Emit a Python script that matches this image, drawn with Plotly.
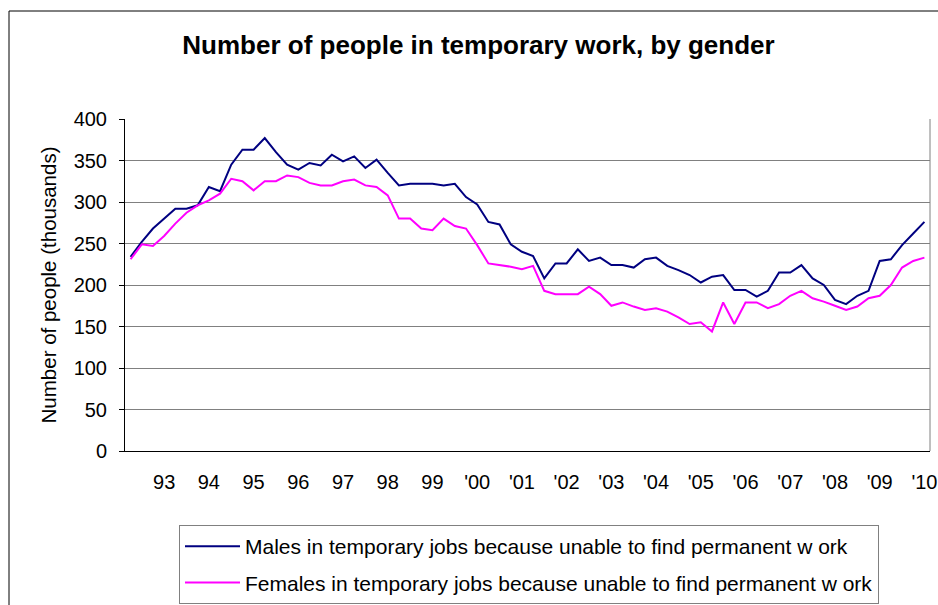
import plotly.graph_objects as go

males = [234, 252, 268, 280, 292, 292, 296, 318, 313, 345, 363, 363, 377, 360, 345, 339,
         347, 344, 357, 349, 355, 341, 351, 335, 320, 322, 322, 322, 320, 322, 306, 297,
         276, 273, 249, 240, 235, 208, 226, 226, 243, 229, 233, 224, 224, 221, 231, 233,
         223, 218, 212, 203, 210, 212, 194, 194, 186, 193, 215, 215, 224, 208, 200, 182,
         177, 187, 193, 229, 231, 248, 262, 276]
females = [231, 249, 247, 259, 274, 287, 296, 302, 310, 328, 325, 314, 325, 325, 332, 330,
           323, 320, 320, 325, 327, 320, 318, 308, 280, 280, 268, 266, 280, 271, 268, 248,
           226, 224, 222, 219, 223, 193, 189, 189, 189, 198, 189, 175, 179, 174, 170, 172,
           168, 161, 153, 155, 144, 179, 153, 179, 179, 172, 177, 187, 193, 184, 180, 175,
           170, 174, 184, 187, 200, 221, 229, 233]
year_labels = ["93", "94", "95", "96", "97", "98", "99", "'00", "'01", "'02", "'03",
               "'04", "'05", "'06", "'07", "'08", "'09", "'10"]

n = len(males)
xs = list(range(n))
label_pos = [3 + 4 * k for k in range(len(year_labels))]

FONT = "Liberation Sans, Arial, sans-serif"

fig = go.Figure()
fig.add_trace(go.Scatter(
    x=xs, y=males, mode="lines",
    name="Males in temporary jobs because unable to find permanent w ork",
    line=dict(color="#000080", width=2), legendgroup="m"))
fig.add_trace(go.Scatter(
    x=xs, y=females, mode="lines",
    name="Females in temporary jobs because unable to find permanent w ork",
    line=dict(color="#FF00FF", width=2), legendgroup="f"))

W, H = 938, 605
L, R, T, B = 125, 8, 119, 154
pw, ph = W - L - R, H - T - B

def px_x(p):
    return (p - L) / pw

def px_y(p):
    return (H - B - p) / ph

fig.update_layout(
    width=W, height=H,
    margin=dict(l=L, r=R, t=T, b=B, autoexpand=False),
    paper_bgcolor="white", plot_bgcolor="white",
    font=dict(family=FONT, color="black", size=20),
    title=dict(text="<b>Number of people in temporary work, by gender</b>",
               x=478.5 / W, xanchor="center", y=1 - 45 / H, yanchor="middle",
               yref="container", font=dict(family=FONT, size=26, color="black")),
    showlegend=True,
    legend=dict(x=px_x(179), y=px_y(525), xanchor="left", yanchor="top",
                bgcolor="white", bordercolor="#808080", borderwidth=1,
                font=dict(family=FONT, size=21, color="black"),
                traceorder="grouped", tracegroupgap=6, itemwidth=55),
    xaxis=dict(range=[-0.5, n - 0.5], tickmode="array", tickvals=label_pos,
               ticktext=year_labels, showgrid=False, zeroline=False,
               showline=True, linecolor="black", linewidth=1, mirror=False,
               ticks="", ticklabelstandoff=13, automargin=False,
               tickfont=dict(family=FONT, size=20, color="black")),
    yaxis=dict(range=[0, 400], dtick=50, showgrid=True, gridcolor="#808080",
               gridwidth=1, zeroline=False, showline=True, linecolor="black",
               linewidth=1, ticks="outside", ticklen=5, tickcolor="black",
               ticklabelstandoff=8, automargin=False,
               tickfont=dict(family=FONT, size=20, color="black"),
               title=dict(text="Number of people (thousands)", standoff=11,
                          font=dict(family=FONT, size=20.5, color="black"))),
    shapes=[
        dict(type="line", xref="paper", yref="paper", x0=1, x1=1, y0=0, y1=1,
             line=dict(color="#808080", width=1)),
        dict(type="line", xref="paper", yref="paper", x0=px_x(9), x1=px_x(9),
             y0=px_y(11), y1=px_y(620), line=dict(color="black", width=1)),
        dict(type="line", xref="paper", yref="paper", x0=px_x(9), x1=px_x(960),
             y0=px_y(11), y1=px_y(11), line=dict(color="black", width=1)),
    ],
)

fig.write_html("out.html", config={"displayModeBar": False},
               post_script="document.body.style.margin='0';document.body.style.overflow='hidden';")
